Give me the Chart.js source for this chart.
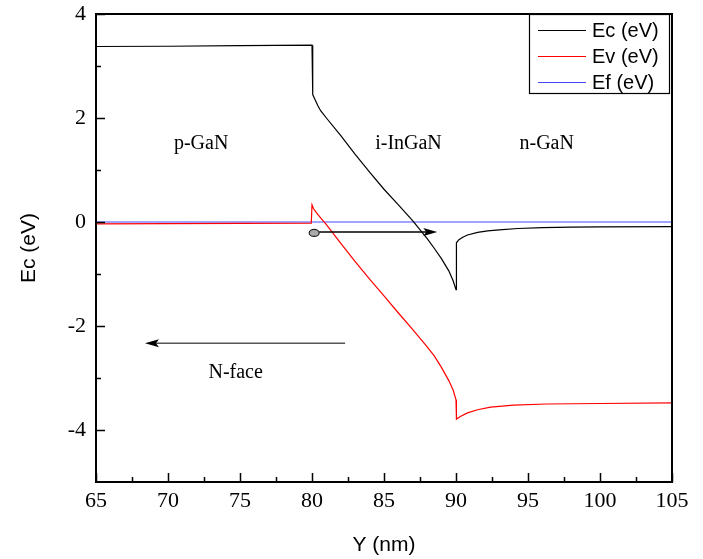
<!DOCTYPE html>
<html>
<head>
<meta charset="utf-8">
<script src="https://cdn.jsdelivr.net/npm/chart.js@4.4.0/dist/chart.umd.min.js"></script>
<style>
  html, body { margin: 0; padding: 0; background: #fff; }
  #wrap { width: 703px; height: 559px; }
</style>
</head>
<body>
<div id="wrap"><canvas id="chart" width="703" height="559"></canvas></div>
<script>
// ---- data ----
const xTicks = [65, 70, 75, 80, 85, 90, 95, 100, 105];
const yTicks = [-4, -2, 0, 2, 4];

const ecX = [65, 70, 75, 80.0, 80.05, 80.2, 80.4, 80.6, 81, 82, 83, 84, 85, 86, 87, 88, 88.5, 89, 89.5, 89.8, 90.0,
             90.03, 90.2, 90.5, 90.8, 91.5, 92.2, 93, 94.3, 96, 98, 100, 105];
const ecY = [3.375, 3.38, 3.39, 3.40, 2.45, 2.36, 2.24, 2.14, 2.00, 1.66, 1.30, 0.96, 0.63, 0.33, 0.02, -0.32, -0.51, -0.71, -0.94, -1.13, -1.30,
             -0.40, -0.34, -0.29, -0.25, -0.20, -0.17, -0.15, -0.125, -0.11, -0.10, -0.095, -0.09];

const evX = [65, 70, 75, 79.95, 80.0, 80.1, 80.3, 80.6, 81, 82, 83, 84, 85, 86, 87, 88, 88.5, 89, 89.5, 89.8, 90.0,
             90.03, 90.3, 90.8, 91.5, 92.4, 94, 96.3, 100, 105];
const evY = [-0.035, -0.03, -0.028, -0.02, 0.33, 0.26, 0.18, 0.08, -0.05, -0.41, -0.76, -1.10, -1.42, -1.75, -2.07, -2.40, -2.58, -2.80, -3.05, -3.23, -3.42,
             -3.79, -3.74, -3.67, -3.61, -3.56, -3.52, -3.50, -3.49, -3.48];

const efX = [65, 105];
const efY = [0, 0];

const seriesNames  = ['Ec (eV)', 'Ev (eV)', 'Ef (eV)'];
const seriesColors = ['#000000', '#ff0000', '#4646ff'];

// region labels (data coordinates)
const regionLabels = [
  { text: 'p-GaN',   x: 72.3, y: 1.5 },
  { text: 'i-InGaN', x: 86.7, y: 1.5 },
  { text: 'n-GaN',   x: 96.3, y: 1.5 },
  { text: 'N-face',  x: 74.7, y: -2.9 }
];

const SERIF = '"Liberation Serif", "Times New Roman", serif';
const SANS  = '"Liberation Sans", Arial, sans-serif';

function pts(xs, ys) { return xs.map((x, i) => ({ x, y: ys[i] })); }

// ---- frame, inward ticks, annotations, legend ----
const decor = {
  id: 'decor',
  afterDraw(chart) {
    const { ctx, chartArea: a, scales: { x, y } } = chart;
    ctx.save();

    // inward ticks
    ctx.strokeStyle = '#000';
    ctx.lineWidth = 1.5;
    ctx.beginPath();
    for (let v = 65; v <= 105.01; v += 2.5) {
      const px = Math.round(x.getPixelForValue(v)) + 0.5;
      const len = (v % 5 === 0) ? 9 : 5;
      ctx.moveTo(px, a.bottom); ctx.lineTo(px, a.bottom - len);
    }
    for (let v = -4; v <= 4.01; v += 1) {
      const py = Math.round(y.getPixelForValue(v)) + 0.5;
      const len = (v % 2 === 0) ? 9 : 5;
      ctx.moveTo(a.left, py); ctx.lineTo(a.left + len, py);
    }
    ctx.stroke();

    // frame
    ctx.lineWidth = 2;
    ctx.strokeRect(a.left, a.top, a.right - a.left, a.bottom - a.top);

    // region labels
    ctx.fillStyle = '#000';
    ctx.font = '20px ' + SERIF;
    ctx.textAlign = 'center';
    ctx.textBaseline = 'middle';
    regionLabels.forEach(l => ctx.fillText(l.text, x.getPixelForValue(l.x), y.getPixelForValue(l.y)));

    // arrows
    const arrow = (x1, x2, yy, col) => {
      const p1 = x.getPixelForValue(x1), p2 = x.getPixelForValue(x2), py = y.getPixelForValue(yy);
      const dir = Math.sign(p2 - p1);
      ctx.strokeStyle = col; ctx.lineWidth = 1.5;
      ctx.beginPath(); ctx.moveTo(p1, py); ctx.lineTo(p2 - dir * 10, py); ctx.stroke();
      ctx.fillStyle = '#000';
      ctx.beginPath();
      ctx.moveTo(p2, py); ctx.lineTo(p2 - dir * 14, py - 4); ctx.lineTo(p2 - dir * 11, py); ctx.lineTo(p2 - dir * 14, py + 4);
      ctx.closePath(); ctx.fill();
    };
    arrow(82.3, 68.4, -2.33, '#555');

    // electron + drift arrow
    arrow(80.5, 88.7, -0.19, '#000');
    ctx.beginPath();
    ctx.ellipse(x.getPixelForValue(80.15), y.getPixelForValue(-0.21), 5, 3.5, 0, 0, Math.PI * 2);
    ctx.fillStyle = '#aaaaaa'; ctx.fill();
    ctx.strokeStyle = '#222'; ctx.lineWidth = 1.2; ctx.stroke();

    // legend box
    const lx = 529, ly = 14, lw = 140, lh = 79;
    ctx.fillStyle = '#fff';
    ctx.fillRect(lx, ly, lw, lh);
    ctx.strokeStyle = '#000'; ctx.lineWidth = 1.2;
    ctx.strokeRect(lx + 0.5, ly + 0.5, lw, lh);
    ctx.font = '20px ' + SANS;
    ctx.textAlign = 'left';
    for (let i = 0; i < seriesNames.length; i++) {
      const yy = ly + 16.5 + i * 26;
      ctx.beginPath();
      ctx.strokeStyle = seriesColors[i];
      ctx.lineWidth = 1.2;
      ctx.moveTo(lx + 9, yy); ctx.lineTo(lx + 57, yy);
      ctx.stroke();
      ctx.fillStyle = '#000';
      ctx.fillText(seriesNames[i], lx + 63, yy + 1);
    }

    ctx.restore();
  }
};

new Chart(document.getElementById('chart'), {
  type: 'line',
  data: {
    datasets: [
      { label: seriesNames[0], data: pts(ecX, ecY), borderColor: seriesColors[0] },
      { label: seriesNames[1], data: pts(evX, evY), borderColor: seriesColors[1] },
      { label: seriesNames[2], data: pts(efX, efY), borderColor: seriesColors[2] }
    ].map(d => Object.assign(d, { borderWidth: 1.2, pointRadius: 0, tension: 0, fill: false }))
  },
  options: {
    responsive: false,
    animation: false,
    layout: { padding: { left: 0, right: 31, top: 14, bottom: 0 } },
    plugins: { legend: { display: false }, tooltip: { enabled: false } },
    scales: {
      x: {
        type: 'linear', min: 65, max: 105,
        afterBuildTicks: s => { s.ticks = xTicks.map(v => ({ value: v })); },
        afterFit: s => { s.height = 77; s.paddingLeft = 0; s.paddingRight = 0; },
        grid: { display: false, drawTicks: false },
        border: { display: false },
        ticks: { color: '#000', padding: 6, font: { family: SERIF, size: 22 } },
        title: { display: true, text: 'Y (nm)', color: '#000', padding: { top: 0, bottom: 1 }, font: { family: SANS, size: 21 } }
      },
      y: {
        type: 'linear', min: -5, max: 4,
        afterBuildTicks: s => { s.ticks = yTicks.map(v => ({ value: v })); },
        afterFit: s => { s.width = 96; s.paddingTop = 0; s.paddingBottom = 0; },
        grid: { display: false, drawTicks: false },
        border: { display: false },
        ticks: { color: '#000', padding: 10, font: { family: SERIF, size: 22 } },
        title: { display: true, text: 'Ec (eV)', color: '#000', padding: { top: 17, bottom: 0 }, font: { family: SANS, size: 21 } }
      }
    }
  },
  plugins: [decor]
});
</script>
</body>
</html>
